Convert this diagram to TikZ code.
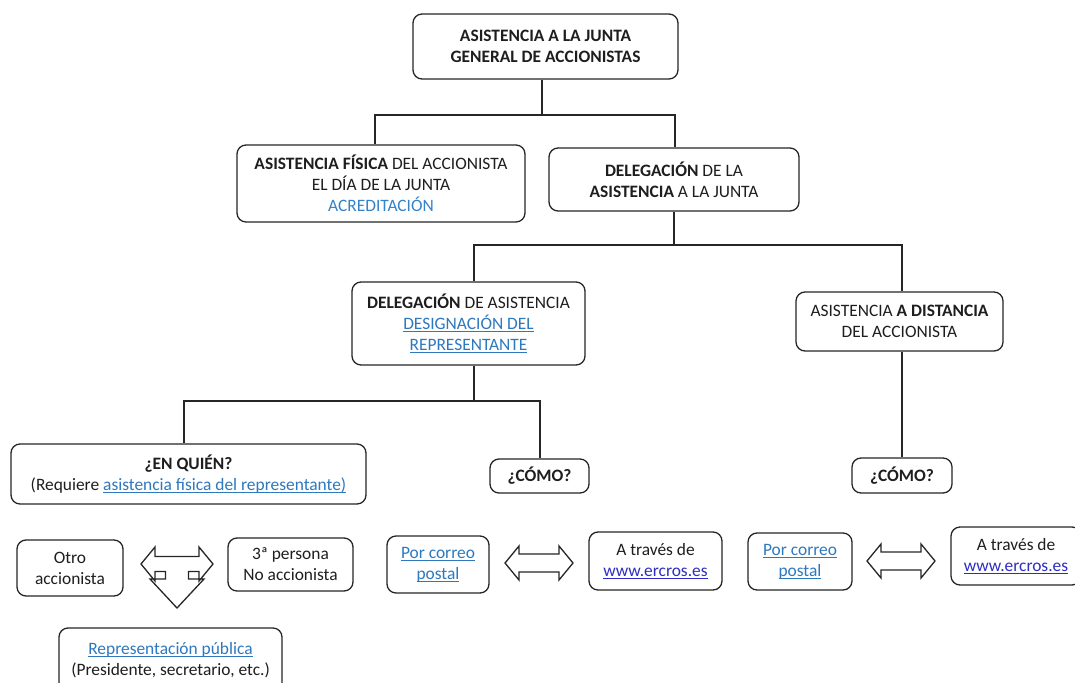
\documentclass[tikz,border=0pt]{standalone}
\usepackage{fontspec}
\setmainfont{Carlito}
\usetikzlibrary{calc}
\definecolor{lnkblue}{RGB}{46,120,190}
\definecolor{acred}{RGB}{52,130,200}
\definecolor{webblue}{RGB}{45,45,195}
\definecolor{txt}{RGB}{30,30,30}
\newcommand{\lnk}[1]{{\color{lnkblue}\setbox0=\hbox{#1}\rlap{\rule[-2.8pt]{\wd0}{0.9pt}}\box0}}
\newcommand{\web}[1]{{\color{webblue}\setbox0=\hbox{#1}\rlap{\rule[-2.8pt]{\wd0}{0.9pt}}\box0}}
\begin{document}
\begin{tikzpicture}[x=1pt,y=-1pt,
  box/.style={draw=black!85, rounded corners=9pt, line width=1.3pt, inner sep=0pt,
    align=center, text=txt, fill=white, font=\fontsize{17.4}{21}\selectfont},
  conn/.style={draw=black!85, line width=1.8pt},
  blockarrow/.style={draw=black!85, line width=1.3pt, fill=white, line join=miter}]
\clip (0,0) rectangle (1075,682);
\fill[white] (0,0) rectangle (1075,682);

% top levels
\node[box, minimum width=265pt, minimum height=65pt] (T) at (545.5,46.5)
  {\textbf{ASISTENCIA A LA JUNTA}\\\textbf{GENERAL DE ACCIONISTAS}};
\node[box, minimum width=288pt, minimum height=77pt] (B2) at (381,183.5)
  {\textbf{ASISTENCIA FÍSICA} DEL ACCIONISTA\\EL DÍA DE LA JUNTA\\{\color{acred}ACREDITACIÓN}};
\node[box, minimum width=250pt, minimum height=63pt] (B3) at (674,179.5)
  {\textbf{DELEGACIÓN} DE LA\\\textbf{ASISTENCIA} A LA JUNTA};
\node[box, minimum width=233pt, minimum height=83pt] (B4) at (468.5,323.5)
  {\textbf{DELEGACIÓN} DE ASISTENCIA\\\lnk{DESIGNACIÓN DEL}\\\lnk{REPRESENTANTE}};
\node[box, minimum width=207pt, minimum height=59pt] (B5) at (899.5,321.5)
  {ASISTENCIA \textbf{A DISTANCIA}\\DEL ACCIONISTA};
\node[box, minimum width=355pt, minimum height=60pt] (B6) at (188.5,474)
  {\textbf{¿EN QUIÉN?}\\(Requiere \lnk{asistencia física del representante)}};
\node[box, minimum width=99pt, minimum height=34pt] (B7) at (539.5,476)
  {\textbf{¿CÓMO?}};
\node[box, minimum width=100pt, minimum height=35pt] (B8) at (902,475.5)
  {\textbf{¿CÓMO?}};

% bottom row
\node[box, minimum width=106pt, minimum height=56pt] (O1) at (70,568)
  {Otro\\accionista};
\node[box, minimum width=125pt, minimum height=53pt] (P3) at (290.5,564.5)
  {3ª persona\\No accionista};
\node[box, minimum width=102pt, minimum height=57pt] (PC1) at (438,564.5)
  {\lnk{Por correo}\\\lnk{postal}};
\node[box, minimum width=133pt, minimum height=58pt] (AT1) at (655.5,561)
  {A través de\\\web{www.ercros.es}};
\node[box, minimum width=104pt, minimum height=57pt] (PC2) at (800,561.5)
  {\lnk{Por correo}\\\lnk{postal}};
\node[box, minimum width=130pt, minimum height=58pt] (AT2) at (1016,556)
  {A través de\\\web{www.ercros.es}};
\node[box, minimum width=223pt, minimum height=64pt] (RP) at (170.5,660)
  {\lnk{Representación pública}\\(Presidente, secretario, etc.)};

% tree connectors
\draw[conn] ([xshift=-3.5pt]T.south) -- ++(0,35) coordinate (j1);
\draw[conn] ([xshift=-6pt]B2.north) |- (j1) -| ([xshift=1pt]B3.north);
\draw[conn] (B3.south) -- ++(0,33) coordinate (j2);
\draw[conn] ([xshift=5.5pt]B4.north) |- (j2) -| ([xshift=2.5pt]B5.north);
\draw[conn] ([xshift=5.5pt]B4.south) -- ++(0,35) coordinate (j3);
\draw[conn] ([xshift=-4.5pt]B6.north) |- (j3) -| ([xshift=0.5pt]B7.north);
\draw[conn] ([xshift=2.5pt]B5.south) -- ([xshift=2.5pt]B5.south |- B8.north);

% block arrows
\coordinate (A1) at (177,564);
\coordinate (A2) at (539,563);
\coordinate (A3) at (901,561);
\draw[blockarrow, shift={(A1)}]
  (-36,0) -- (-22,-17) -- (-22,-7.5) -- (22,-7.5) -- (22,-17) -- (36,0) -- (22,17)
  -- (22,7.5) -- (11.5,7.5) -- (11.5,15) -- (27,15) -- (0,44) -- (-27,15) -- (-11.5,15)
  -- (-11.5,7.5) -- (-22,7.5) -- (-22,17) -- cycle;
\foreach \c in {A2,A3}{
\draw[blockarrow, shift={(\c)}]
  (-34,0) -- (-20,-17) -- (-20,-9) -- (20,-9) -- (20,-17) -- (34,0) -- (20,17)
  -- (20,9) -- (-20,9) -- (-20,17) -- cycle;
}
\end{tikzpicture}
\end{document}
